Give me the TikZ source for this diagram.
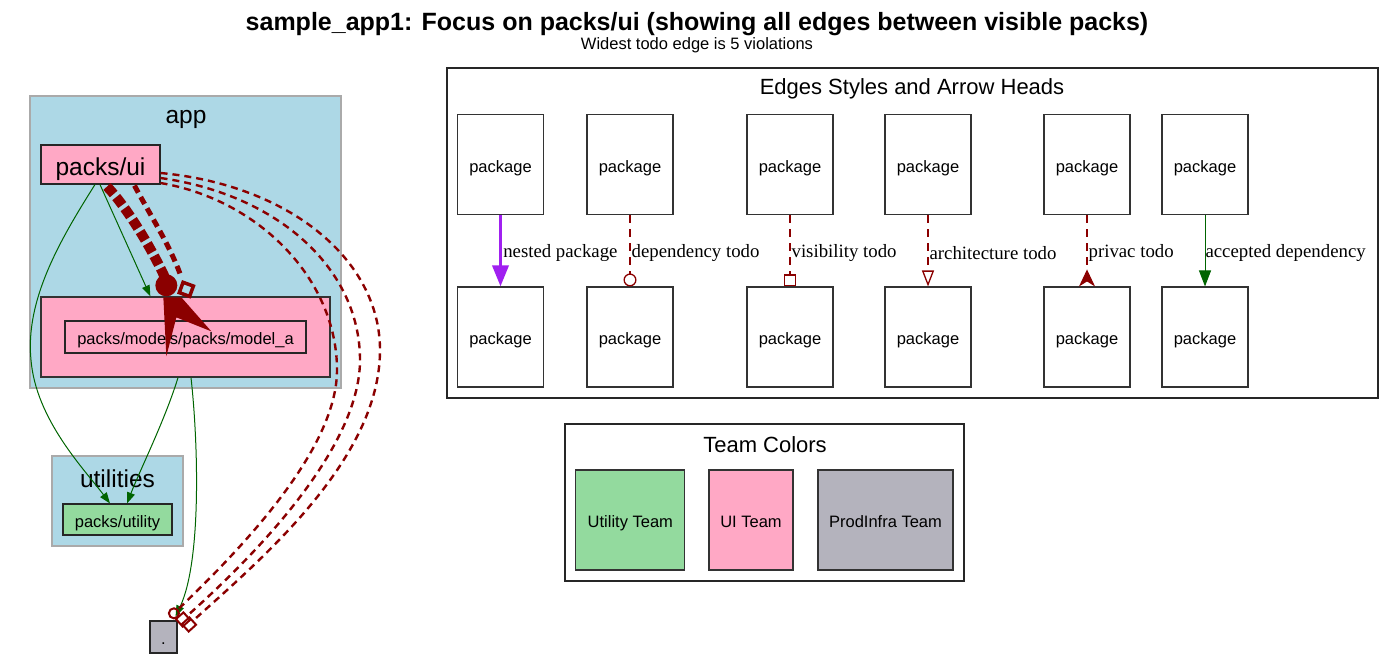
\documentclass[tikz,border=0pt]{standalone}
\usepackage{fontspec}
\setmainfont{Liberation Serif}
\newfontfamily\arialf{Liberation Sans}
\usetikzlibrary{arrows.meta,calc}
\definecolor{todored}{RGB}{139,0,0}
\definecolor{okgreen}{RGB}{0,100,0}
\definecolor{nestpurple}{RGB}{160,32,240}
\definecolor{uipink}{RGB}{255,168,197}
\definecolor{utilgreen}{RGB}{147,218,158}
\definecolor{infragray}{RGB}{180,179,189}
\definecolor{clusterblue}{RGB}{173,216,230}
\definecolor{clusterline}{RGB}{170,170,170}
\tikzset{
  small/.style={font=\arialf\fontsize{16.5}{19}\selectfont},
  big/.style={font=\arialf\fontsize{24.5}{28}\selectfont},
  smallbox/.style={small, text height=15.5pt, text depth=0pt},
  bigbox/.style={big, text height=21pt, text depth=0pt},
  legtitle/.style={font=\arialf\fontsize{22}{26}\selectfont},
  elabel/.style={font=\fontsize{18.8}{22}\selectfont, anchor=west, inner sep=0pt, text=black, yshift=-2pt},
  pkg/.style={draw=black!80, line width=1.1pt, smallbox, minimum width=86pt, minimum height=100pt, inner sep=0pt},
  teambox/.style={draw=black!80, line width=1.1pt, smallbox, minimum height=100pt, inner sep=0pt},
  packnode/.style={draw=black!85, line width=1.1pt, inner sep=0pt},
  cluster/.style={draw=clusterline, fill=clusterblue, line width=1.2pt},
  accepted/.style={draw=okgreen, line width=1pt, -{Triangle[length=11pt,width=8pt]}},
  todo/.style={draw=todored, line width=1.2pt, dash pattern=on 8pt off 6pt},
  todowide/.style={draw=todored, line width=2.4pt, dash pattern=on 7pt off 5pt},
  openbox/.style={draw=todored, line width=3.5pt, minimum size=11pt, inner sep=0pt},
}
\begin{document}
\begin{tikzpicture}[x=1pt,y=-1pt]
\useasboundingbox (0,0) rectangle (1394,659);
% title
\node[font=\arialf\bfseries\fontsize{25}{28}\selectfont] (title) at (697,24) {sample\_app1: Focus on packs/ui (showing all edges between visible packs)};
\node[font=\arialf\fontsize{16.5}{19}\selectfont] (subtitle) at (697,45.5) {Widest todo edge is 5 violations};

% clusters
\draw[cluster] (30,96) rectangle (341,388);
\node[big] (applabel) at (186,119) {app};
\draw[cluster] (52,456) rectangle (183,546);
\node[big] (utillabel) at (117.5,479) {utilities};

% nodes
\node[packnode, fill=uipink, bigbox, minimum width=119pt, minimum height=39pt] (ui) at (100.5,164.5) {packs/ui};
\node[draw=black!80, line width=1.3pt, fill=uipink, minimum width=289pt, minimum height=80pt, inner sep=0pt] (modbox) at (185.5,337) {};
\node[packnode, fill=uipink, smallbox, minimum width=241pt, minimum height=32pt] (modela) at (185.5,337) {packs/models/packs/model\_a};
\node[packnode, fill=utilgreen, smallbox, minimum width=109pt, minimum height=31pt] (utility) at (117.5,519.5) {packs/utility};
\node[packnode, fill=infragray, smallbox, minimum width=27pt, minimum height=32pt] (dot) at (163.5,637) {.};

% green accepted edges
\draw[accepted] ($(ui.south)+(-0.5,0)$) -- ($(modbox.north west)+(110,0)$);
\draw[accepted] ($(ui.south)+(-5.5,0)$) .. controls (60,240) and (25,300) .. (31,360) .. controls (36,420) and (85,470) .. ($(utility.north)+(-7.5,0)$);
\draw[accepted] ($(modbox.south)+(-7.5,0)$) .. controls (165,420) and (140,470) .. ($(utility.north)+(9.5,0)$);
\draw[accepted] ($(modbox.south)+(5.5,0)$) .. controls (198,440) and (202,560) .. ($(dot.north east)+(-2,-4)$);

% todo edges to dot
\draw[todowide, -{Square[open, length=12pt, width=12pt, line width=2pt]}] ($(ui.east)+(0,8.5)$) .. controls (290,185) and (380,260) .. (380,350) .. controls (380,460) and (260,560) .. ($(dot.north east)+(7,8)$);
\draw[todowide, -{Square[open, length=12pt, width=12pt, line width=2pt]}] ($(ui.east)+(0,13.5)$) .. controls (280,195) and (360,270) .. (360,360) .. controls (360,450) and (250,560) .. ($(dot.north east)+(1,3)$);
\draw[todowide, -{Circle[open, length=12pt, width=12pt, line width=2pt]}] ($(ui.east)+(0,18.5)$) .. controls (260,200) and (337,280) .. (337,370) .. controls (337,450) and (240,550) .. ($(dot.north east)+(-8,-3)$);

% heavy todo edges ui -> model_a
\draw[draw=todored, line width=10pt, dash pattern=on 10pt off 4pt] ($(ui.south)+(6.5,2)$) .. controls (125,205) and (150,245) .. ($(modbox.north west)+(125,-18)$);
\fill[todored] ($(modbox.north west)+(126,-11)$) circle (11);
\fill[todored] ($(modbox.north west)+(123,1)$) -- ($(modbox.north west)+(126,60)$) -- ($(modbox.north west)+(136,21)$) -- ($(modbox.north west)+(171,35)$) -- ($(modbox.north west)+(141,1)$) -- cycle;
\draw[draw=todored, line width=5pt, dash pattern=on 8pt off 5pt] ($(ui.south)+(34,1)$) .. controls (150,215) and (170,245) .. ($(modbox.north west)+(141,-19)$);
\node[openbox, rotate=-20] (vbox) at ($(modbox.north west)+(146,-7)$) {};

% legend: edge styles
\draw[black!85, line width=1.1pt] (447,68) rectangle (1378,398);
\node[legtitle] (edgetitle) at (912,88.5) {Edges Styles and Arrow Heads};
\node[pkg] (t1) at (500.5,164.5) {package};
\node[pkg] (b1) at (500.5,337) {package};
\node[pkg] (t2) at (630,164.5) {package};
\node[pkg] (b2) at (630,337) {package};
\node[pkg] (t3) at (790,164.5) {package};
\node[pkg] (b3) at (790,337) {package};
\node[pkg] (t4) at (928,164.5) {package};
\node[pkg] (b4) at (928,337) {package};
\node[pkg] (t5) at (1087,164.5) {package};
\node[pkg] (b5) at (1087,337) {package};
\node[pkg] (t6) at (1205,164.5) {package};
\node[pkg] (b6) at (1205,337) {package};

\draw[nestpurple, line width=3.5pt, -{Triangle[length=21pt,width=16pt]}] (t1) -- (b1) node[elabel, midway, xshift=1pt] {nested package};
\draw[todo, -{Circle[open, length=13pt, width=13pt, line width=1.3pt]}] (t2) -- (b2) node[elabel, midway, xshift=1pt] {dependency todo};
\draw[todo, -{Square[open, length=12pt, width=12pt, line width=1.3pt]}] (t3) -- (b3) node[elabel, midway, xshift=1pt] {visibility todo};
\draw[todo, -{Triangle[open, length=16pt, width=12pt, line width=1.3pt]}] (t4) -- (b4) node[elabel, midway, xshift=1pt] {architecture todo};
\draw[todo, -{Stealth[reversed, length=17pt, width=16pt, inset=5pt]}] (t5) -- (b5) node[elabel, midway, xshift=1pt] {privac todo};
\draw[accepted, -{Triangle[length=16pt,width=12pt]}] (t6) -- (b6) node[elabel, midway, xshift=0pt] {accepted dependency};

% legend: team colors
\draw[black!85, line width=1.1pt] (565,424) rectangle (964,581);
\node[legtitle] (teamtitle) at (765,445) {Team Colors};
\node[teambox, fill=utilgreen, minimum width=109pt] (tutil) at (630.3,520) {Utility Team};
\node[teambox, fill=uipink, minimum width=84pt] (tui) at (751,520) {UI Team};
\node[teambox, fill=infragray, minimum width=135pt] (tinfra) at (885.5,520) {ProdInfra Team};
\end{tikzpicture}
\end{document}
